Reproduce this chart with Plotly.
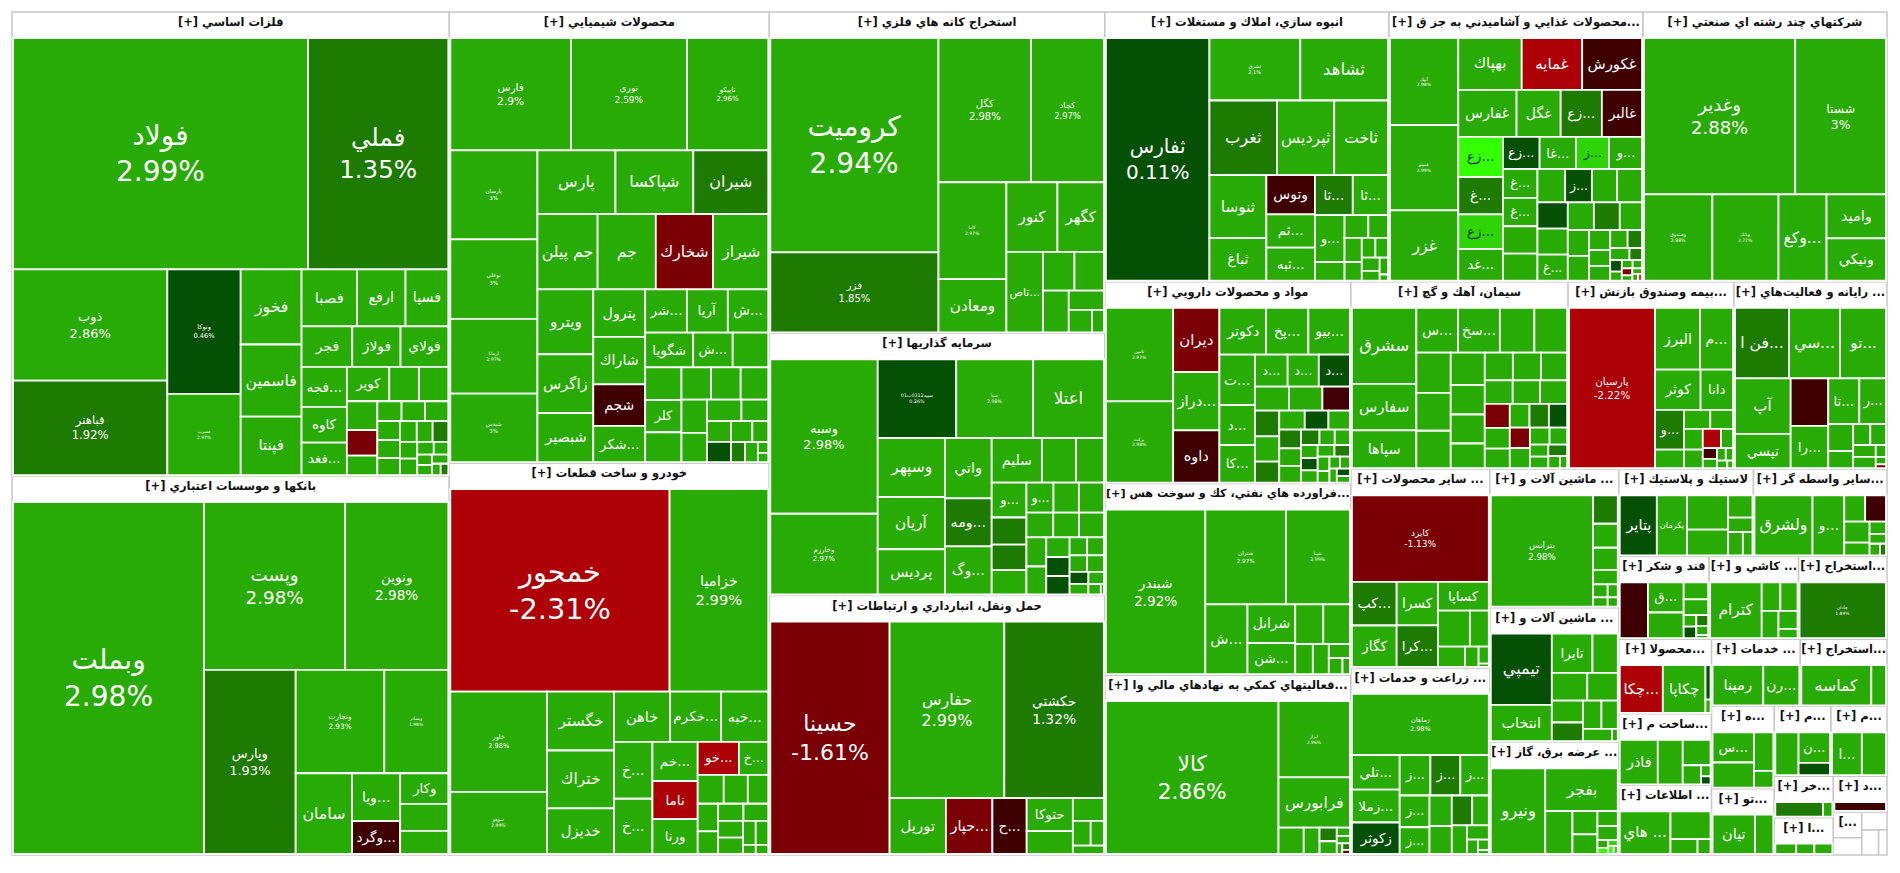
import math
import plotly.graph_objects as go

# ---------- sectors (title, total tile area) ----------
sec_titles = [
 "[+] فلزات اساسي", "[+] بانكها و موسسات اعتباري", "[+] محصولات شيميايي", "[+] خودرو و ساخت قطعات",
 "[+] استخراج كانه هاي فلزي", "[+] سرمايه گذاريها", "[+] حمل ونقل، انبارداري و ارتباطات",
 "[+] انبوه سازي، املاك و مستغلات", "[+] محصولات غذايي و آشاميدني به جز ق...", "[+] شركتهاي چند رشته اي صنعتي",
 "[+] مواد و محصولات دارويي", "[+] فراورده هاي نفتي، كك و سوخت هس...", "[+] فعاليتهاي كمكي به نهادهاي مالي وا...",
 "[+] سيمان، آهك و گچ", "[+] بيمه وصندوق بازنش...", "[+] رايانه و فعاليت‌هاي ...",
 "[+] سایر محصولات ...", "[+] زراعت و خدمات ...", "[+] ماشين آلات و ...", "[+] ماشين آلات و ...",
 "[+] عرضه برق، گاز ...", "[+] لاستيك و پلاستيك", "[+] سایر واسطه گر...",
 "[+] قند و شكر", "[+] كاشي و ...", "[+] استخراج...", "[+] محصولا...", "[+] ساخت م...", "[+] اطلاعات ...",
 "[+] خدمات ...", "[+] استخراج...", "[+] ه...", "[+] تو...", "[+] م...", "[+] م...", "[+] خر...", "[+] ا...", "[+] د...",
 "[...", " ", " ", " ", " ",
]
sec_values = [202300,165200,143900,125000,107500,87700,86800,76400,68300,65600,49500,47000,44100,40600,31000,28600,
 27500,25900,17800,17300,14500,11700,11600,7460,7380,7300,6900,6620,6440,5940,5800,5150,4150,3950,3900,2440,2200,1910,
 730,490,450,420,210]

# ---------- tiles: names come first, unnamed tiles after them ----------
s01_names = ["فولاد","فملي","ذوب","فباهنر","ونوكا","فسرب","فخوز","فاسمين","فپنتا","فصبا","ارفع","فسپا","فجر","فولاي","فولاژ","فجه...","كوير","كاوه","فغد..."]
s01_values = [66550,31660,16750,14200,8910,5800,4460,4280,3470,3080,2700,2380,1995,1880,1900,1770,1426,1580,1430,
 1000,984,856,450,467,451,757,580,418,342,323,285,396,318,206,182,375,277,143,150,144,95,84]
s01_shades = {31660:"m",14200:"m",8910:"v",757:"d",318:"m",84:"m"}

s02_names = ["وبملت","وپست","ونوين","وپارس","ونجارت","وبصادر","سامان","ويا...","وكار","","وگرد..."]
s02_values = [66100,23300,17030,16590,9000,6500,4480,2260,1446,1285,1558,1092]
s02_shades = {16590:"m",1558:"k"}

s03_names = ["فارس","نوري","تاپيكو","پارسان","بوعلي","ارمانا","شبدس","پارس","شپاكسا","شيران","جم پيلن","جم","شخارك","شيراز","ويترو","زاگرس","شبصير","شاراك","پترول","شجم","شكر...","شر...","آريا","ش...","شگويا","ش...","","كلر"]
s03_values = [12900,12400,8680,7385,6600,6190,5685,4745,4735,4560,4300,4160,4090,3950,3450,3130,2600,2350,2351,2050,1790,1720,1690,1670,1590,1310,1180,1113,
 905,906,845,1125,1033,810,708,709,551,469,424,316,462,270,246,109,91]
s03_shades = {4560:"m",4090:"d",2050:"k",462:"v",270:"m"}

s04_names = ["خمحور","خزاميا","خاور","سوهو","خگستر","ختراك","خديزل","خاهن","خكرم...","خبه...","خ...","خ...","خم...","ناما","ورنا","خو...","خ..."]
s04_values = [42750,19250,9340,5790,3800,3740,2940,2710,2470,2280,2100,2040,1707,1663,1517,1308,934,
 725,669,571,544,446,410,418,402,393,291,292,110,111]
s04_shades = {42750:"r",1663:"r",1308:"r"}

s05_names = ["كروميت","فزر","كگل","كچاد","كاما","ومعادن","كنور","كگهر","تاص..."]
s05_values = [34980,13050,12950,10190,6380,3510,3450,3140,2860,1177,1102,1041,657,506,261]
s05_shades = {13050:"m"}

s06_names = ["وسبه","وخارزم","سپيد0312ب01","صبا","اعتلا","وسپهر","آريان","پرديس","واتي","ومه...","وگ...","سليم","","","و...","","","","و..."]
s06_values = [15480,8100,5766,5650,5190,3700,3280,2840,2635,2101,2100,2099,1420,1163,1130,880,830,790,753,
 622,538,518,706,697,600,576,429,412,404,293,279,213,186,270,258,178,120,30]
s06_shades = {5766:"v",2101:"m",880:"m",830:"m",412:"v",404:"v",213:"v"}

s07_names = ["حسينا","حفارس","حكشتي","توريل","حپار...","ح...","حتوكا"]
s07_values = [26830,19590,17000,3050,2517,1856,1476,1024,685,427,316,253]
s07_shades = {26830:"d",17000:"m",2517:"d",1856:"k"}

s08_names = ["ثفارس","ثشرق","ثشاهد","ثغرب","ثپرديس","ثاخت","ثنوسا","ثباغ","وتوس","ثبه...","ثم...","ثا...","ثا...","و..."]
s08_values = [24220,5470,5280,4860,4120,3870,3450,2340,1830,1552,1553,1460,1360,1342,530,520,430,400,260,310,228,50,240,170,135]
s08_shades = {24220:"v",4860:"m",1830:"k",1460:"m"}

s09_names = ["آبيك","غمينو","غزر","بهپاك","غمايه","غكورش","غفارس","غگل","زع...","غالبر","زع...","زع...","غا...","ز...","و...","غ...","زع...","غد...","غ...","ز...","","","","غ...","غ..."]
s09_values = [5450,5340,4410,3020,2880,2850,2510,1900,1775,1730,1640,1082,1071,976,975,1530,1420,1295,900,815,771,760,729,910,724,
 664,567,486,867,725,845,660,500,386,307,286,858,288,214,139,123,236,96,71,48,51,82,68,36,25]
s09_shades = {2880:"r",2850:"k",1775:"m",1730:"k",1640:"b",1082:"v",976:"c",1530:"m",1420:"c",815:"v",729:"v",660:"m",139:"m",123:"v",236:"m",68:"d",25:"x"}

s10_names = ["وغدير","شستا","وصندوق","وبانك","وكغ...","واميد","ونيكي"]
s10_values = [22890,13745,5725,5540,4024,2538,2440]
s10_shades = {}

s11_names = ["تامين","بركت","ديران","دراز...","داوه","دكوتر","پخ...","بيو...","ت...","د...","كا...","د...","د...","د..."]
s11_values = [5600,4850,2646,2390,2146,1942,1764,1732,1594,1266,1180,927,884,883,725,715,587,555,546,452,338,324,255,430,400,361,362,209,192,152,181,210,183,120,105,172,158,91,88,75,112]
s11_shades = {2646:"d",2146:"k",883:"v",587:"k",555:"m",452:"m",255:"m",400:"v",361:"m",183:"v",158:"m",88:"v"}

s12_names = ["شبندر","شتران","شپنا","ش...","شرانل","شن..."]
s12_values = [15680,7315,5800,2820,1775,1420,1068,1010,508,462,286,211,114]
s12_shades = {}

s13_names = ["كالا","ابزار","فرابورس"]
s13_values = [25350,5230,3445,638,401,211,94,105,47,225,56,31]
s13_shades = {47:"m",225:"m",31:"d"}

s14_names = ["سشرق","سفارس","سپاها","سخ...","س..."]
s14_values = [4510,2760,2245,1726,1727,1429,1354,1273,1018,1196,1185,919,908,775,715,716,669,604,588,589,550,453,421,397,478,379,308,274,429,373,198,199,204,131,81]
s14_shades = {550:"d",421:"m",397:"v",379:"d",198:"m"}

s15_names = ["پارسيان","البرز","م...","كوثر","دانا","و..."]
s15_values = [12420,2510,1842,1653,1173,1040,485,452,390,354,316,210,314,137,99,72,120,81,39]
s15_shades = {12420:"r",1040:"m",314:"r",137:"k"}

s16_names = ["فن ا...","سي...","تو...","آپ","تپسي","","را...","تا...","ر..."]
s16_values = [3452,3260,2930,2796,1726,1615,1438,1285,1104,604,387,324,297,232,110,240,69,35]
s16_shades = {3452:"m",1615:"k",35:"d"}

s17_names = ["كايزد","كپ...","كگاز","كسرا","كرا...","كساپا"]
s17_values = [10980,1800,1714,1661,1583,1343,1065,631,507,257,161,30]
s17_shades = {10980:"d",1800:"m",1583:"m"}

s18_names = ["زماهان","تلي...","زملا...","زكوثر","ز...","ز...","ز...","ز...","ز..."]
s18_values = [7695,1518,1443,1384,1114,1142,1058,871,733,627,561,571,457,398,283,107,145,38]
s18_shades = {1384:"v",1114:"m",561:"m"}

s19_names = ["بترانس"]
s19_values = [10575,651,549,507,330,176,122,125,87]
s19_shades = {651:"m"}

s20_names = ["تيمپي","انتخاب","تايرا"]
s20_values = [3856,1975,1414,874,880,752,605,467,410,517,321,62]
s20_shades = {3856:"v",517:"m"}

s21_names = ["ونيرو","بفجر"]
s21_values = [4217,2810,1052,526,276,255,441,74,60,50,40,30]
s21_shades = {60:"b",50:"c",40:"b",30:"c"}

s22_names = ["پتاير","پكرمان"]
s22_values = [1985,1623,1260,941,483,304,317,199]
s22_shades = {1985:"v"}

s23_names = ["ولشرق","و..."]
s23_values = [3071,1679,483,482,470,177,143,283,107,61]
s23_shades = {482:"k",61:"m"}

s24_names = ["","ق..."]
s24_values = [1354,927,792,358,333,126,125,110,94,31]
s24_shades = {1354:"k",125:"v",110:"m"}

s25_names = ["كترام"]
s25_values = [2540,468,431,407,303,158]
s25_shades = {}

s26_names = ["چادان"]
s26_values = [4383]
s26_shades = {4383:"m"}

s27_names = ["چكا...","چكاپا"]
s27_values = [1848,1832,158,60]
s27_shades = {1848:"r",158:"v"}

s28_names = ["فاذر"]
s28_values = [1509,990,631,314,93,68]
s28_shades = {68:"v"}

s29_names = ["هاي ..."]
s29_values = [1961,1009,365,175]
s29_shades = {}

s30_names = ["رمپنا","رن..."]
s30_values = [1824,1295]
s30_shades = {}

s31_names = ["كماسه"]
s31_values = [2458,515]
s31_shades = {}

s32_names = ["س..."]
s32_values = [1168,973,698,304]
s32_shades = {}

s33_names = ["تيان"]
s33_values = [1440,617]
s33_shades = {}

s34_names = ["","ن..."]
s34_values = [843,810,330]
s34_shades = {330:"v"}

s35_names = ["ا..."]
s35_values = [1110,899]
s35_shades = {}

s36_names = []
s36_values = [517,100]
s36_shades = {517:"m"}

s37_names = []
s37_values = [204,177,176]
s37_shades = {}

s38_names = []
s38_values = [217]
s38_shades = {217:"k"}

s39_names = []
s39_values = [10]
s39_shades = {10:"w"}
s40_names = []
s40_values = [10]
s40_shades = {10:"w"}
s41_names = []
s41_values = [10]
s41_shades = {10:"w"}
s42_names = []
s42_values = [10]
s42_shades = {10:"w"}
s43_names = []
s43_values = [10]
s43_shades = {10:"w"}

# percentage captions: tile name -> (caption, font px)
captions = {
 "فولاد":("2.99%",28),"فملي":("1.35%",24.5),"ذوب":("2.86%",13),"فباهنر":("1.92%",11.6),"ونوكا":("0.46%",6.6),"فسرب":("2.97%",4.4),
 "فارس":("2.9%",10.7),"نوري":("2.59%",9),"تاپيكو":("2.96%",7),"پارسان":("3%",5.6),"بوعلي":("3%",5.6),"ارمانا":("2.97%",4.7),"شبدس":("3%",5.5),
 "وبملت":("2.98%",28),"وپست":("2.98%",18.3),"ونوين":("2.98%",13.6),"وپارس":("1.93%",13),"ونجارت":("2.93%",7.3),"وبصادر":("1.98%",4.5),
 "خمحور":("-2.31%",28.8),"خزاميا":("2.99%",14.7),"خاور":("2.98%",6.6),"سوهو":("2.99%",4.6),
 "كروميت":("2.94%",28),"فزر":("1.85%",10),"كگل":("2.98%",10),"كچاد":("2.97%",8.4),"كاما":("2.97%",4.5),
 "وسبه":("2.98%",13),"سپيد0312ب01":("0.26%",4.8),"صبا":("2.98%",4.7),"وخارزم":("2.97%",7),
 "حسينا":("-1.61%",22),"حفارس":("2.99%",16),"حكشتي":("1.32%",13.8),
 "ثفارس":("0.11%",20),"ثشرق":("2.1%",5),"تامين":("2.97%",4.5),"بركت":("2.98%",4.5),
 "شبندر":("2.92%",13.7),"شتران":("2.97%",5.6),"شپنا":("2.99%",4.7),"كالا":("2.86%",21.7),"ابزار":("2.96%",4.5),
 "آبيك":("2.98%",4.5),"غمينو":("2.99%",4.5),"وغدير":("2.88%",18),"شستا":("3%",12.4),"وصندوق":("2.88%",4.6),"وبانك":("2.77%",4.5),
 "پارسيان":("-2.22%",10.3),"كايزد":("-1.13%",9),"زماهان":("2.98%",6.5),"بترانس":("2.98%",8.7),"چادان":("1.89%",4.5),
}
shade_colors = {"g":"#28AB04","m":"#1E7B02","v":"#045005","r":"#AD0007","d":"#7A0006","k":"#3F0003","b":"#33FF00","c":"#2FD408","x":"#FF1F1F","w":"#FFFFFF"}
header_color = "#FFFFFF"
font_family = "DejaVu Sans"

ids, parents, labels, texts, values, colors, sizes, weights, fontcols, linecols, linewidths = [],[],[],[],[],[],[],[],[],[],[]
g = globals()
for i, (title, total) in enumerate(zip(sec_titles, sec_values), start=1):
    sid = f"S{i}"
    ids.append(sid); parents.append(""); labels.append(title); texts.append(title); values.append(0)
    colors.append(header_color); sizes.append(11.5); weights.append("bold"); fontcols.append("#111111")
    linecols.append("#C8C8C8"); linewidths.append(1.5)
    names = g[f"s{i:02d}_names"]; vals = g[f"s{i:02d}_values"]; shades = g[f"s{i:02d}_shades"]
    scale = total / sum(vals)
    for j, v in enumerate(vals):
        nm = names[j] if j < len(names) else ""
        sh = shades.get(v, "g")
        area = v * scale
        if nm in captions:
            cap, fs = captions[nm]
            tx = f"{nm}<br>{cap}"
        else:
            tx = nm
            fs = 10 + math.sqrt(area) / 12
        ids.append(f"{sid}-{j}"); parents.append(sid); labels.append(nm or " "); texts.append(tx); values.append(area)
        colors.append(shade_colors[sh]); sizes.append(fs); weights.append("normal")
        fontcols.append("#063D00" if sh in "bc" else "#FFFFFF")
        linecols.append("#FFFFFF"); linewidths.append(1.8)

fig = go.Figure(go.Treemap(
    ids=ids, parents=parents, labels=labels, text=texts, values=values,
    branchvalues="remainder", sort=True,
    textinfo="text", textposition="middle center", hoverinfo="skip",
    textfont=dict(family=font_family, size=sizes, color=fontcols, weight=weights),
    marker=dict(colors=colors, line=dict(color=linecols, width=linewidths), depthfade=False,
                pad=dict(t=26, l=1, r=1, b=1)),
    tiling=dict(packing="squarify", squarifyratio=1, pad=0),
    pathbar=dict(visible=False),
))
fig.update_layout(width=1900, height=887, margin=dict(l=11, r=12, t=0, b=17),
                  paper_bgcolor="#FFFFFF", showlegend=False,
                  font=dict(family=font_family))
page_fix = ("document.body.style.margin='0';document.body.style.overflow='hidden';"
            "var gd=document.getElementById('{plot_id}');gd.style.position='absolute';gd.style.left='0';gd.style.top='-14px';")
fig.write_html("out.html", post_script=page_fix, config={"displayModeBar": False})
